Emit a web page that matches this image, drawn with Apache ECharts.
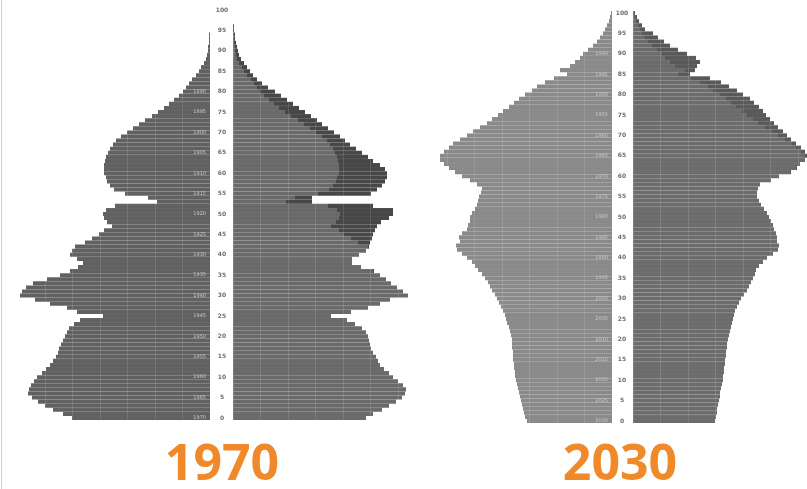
<!DOCTYPE html>
<html>
<head>
<meta charset="utf-8">
<script src="https://cdn.jsdelivr.net/npm/echarts@6/dist/echarts.min.js"></script>
<style>
html,body{margin:0;padding:0;background:#fff;}
#chart{width:807px;height:489px;}
</style>
</head>
<body>
<div id="chart"></div>
<script>
// Ages 0..100 (one bar per single year of age)
const ages = [];
for (let a = 0; a <= 100; a++) ages.push(a);

// Year titles
const years = ['1970', '2030'];

// Values (relative population units), index = age
const male1970 = [138,147,157,165,172,178,182,181,179,176,
  173,168,164,160,157,154,152,151,149,147,
  145,143,141,136,130,107,133,143,160,175,
  190,188,184,177,163,150,140,132,127,133,
  140,138,135,125,118,111,106,98,103,106,
  107,104,95,53,62,85,96,100,103,104,
  106,106,106,105,104,102,100,97,94,89,
  83,77,71,65,58,52,46,41,36,31,
  27,24,21,18,14,11,9,6,4,3,
  2,2,1,1,1,0,0,0,0,0,0];

const female1970 = [133,140,149,156,163,169,172,173,170,165,
  160,156,151,147,145,143,140,138,137,136,
  135,133,129,122,114,98,118,135,147,157,
  175,170,164,158,153,147,141,128,119,119,
  126,133,136,137,139,140,142,144,148,156,
  160,160,140,79,79,138,144,149,152,154,
  154,152,147,140,135,129,123,117,112,107,
  101,95,89,84,78,72,66,60,54,48,
  42,35,29,24,20,17,14,11,8,6,
  5,4,3,2,2,1,1,0,0,0,0];

const male2030 = [85,87,88,89,90,91,92,93,94,95,
  96,97,97,98,98,99,99,99,100,100,
  100,101,102,103,105,106,107,109,111,113,
  115,117,120,122,124,127,130,134,137,140,
  145,150,155,156,152,153,150,145,144,142,
  142,140,137,135,134,133,131,130,135,142,
  150,157,163,168,172,172,168,163,159,152,
  145,139,132,125,120,114,109,103,98,93,
  87,80,75,67,58,45,52,42,37,32,
  29,24,19,15,12,9,7,5,3,2,1];

const female2030 = [82,83,84,84,85,86,87,87,88,89,
  90,90,91,91,92,92,93,93,94,94,
  95,96,97,98,99,100,101,102,104,106,
  108,111,114,116,118,120,122,123,126,130,
  134,140,145,146,144,144,143,141,140,138,
  136,134,131,128,126,124,124,125,127,138,
  146,158,164,167,172,174,172,168,163,158,
  154,150,145,141,137,133,130,126,121,117,
  110,104,96,88,77,57,62,64,67,63,
  54,45,37,31,25,20,12,9,6,4,2];

// Ages at which birth-year labels are printed on the left halves
const yearLabelAges1970 = [0,5,10,15,20,25,30,35,40,45,50,55,60,65,70,75,80];
const yearLabelAges2030 = [0,5,10,15,20,25,30,35,40,45,50,55,60,65,70,75,80,85,90];

const base1970 = female1970.map((f, i) => Math.min(f, male1970[i]));
const surplus1970 = female1970.map((f, i) => Math.max(f - male1970[i], 0));
const base2030 = female2030.map((f, i) => Math.min(f, male2030[i]));
const surplus2030 = female2030.map((f, i) => Math.max(f - male2030[i], 0));

const chart = echarts.init(document.getElementById('chart'), null, {renderer: 'canvas'});

function xAx(idx, max, inverse) {
  return {
    gridIndex: idx, type: 'value', min: 0, max: max, inverse: inverse,
    interval: 27.5, z: 4,
    axisLine: {show: false}, axisTick: {show: false}, axisLabel: {show: false},
    splitLine: {show: true, lineStyle: {color: 'rgba(255,255,255,0.12)', width: 1}}
  };
}
function yearAxis(idx, year, list) {
  return {
    gridIndex: idx, type: 'category', data: ages, position: 'right', z: 5,
    axisLine: {show: false}, axisTick: {show: false},
    splitLine: {show: true, interval: 0, lineStyle: {color: 'rgba(255,255,255,0.05)', width: 0.6}},
    axisLabel: {
      inside: true, margin: 4, fontSize: 5, color: '#c8c8c8',
      fontFamily: 'DejaVu Sans',
      interval: (i) => list.indexOf(i) >= 0,
      formatter: (v) => String(year - Number(v))
    }
  };
}
function ageAxis(idx) {
  return {
    gridIndex: idx, type: 'category', data: ages, position: 'left', z: 5,
    axisLine: {show: false}, axisTick: {show: false},
    splitLine: {show: true, interval: 0, lineStyle: {color: 'rgba(255,255,255,0.05)', width: 0.6}},
    axisLabel: {
      margin: 11, align: 'center', fontSize: 6, fontWeight: 'bold', color: '#6e6e6e',
      fontFamily: 'DejaVu Sans',
      interval: (i) => i % 5 === 0
    }
  };
}
function bar(xi, data, color, stack) {
  return {
    type: 'bar', xAxisIndex: xi, yAxisIndex: xi, data: data, stack: stack,
    barCategoryGap: '0%', silent: true,
    itemStyle: {color: color}
  };
}

chart.setOption({
  animation: false,
  backgroundColor: '#ffffff',
  grid: [
    {left: 10, width: 200, top: 8, height: 412},
    {left: 233, width: 200, top: 8, height: 412},
    {left: 432, width: 180, top: 11, height: 412},
    {left: 633, width: 174, top: 11, height: 412}
  ],
  xAxis: [xAx(0, 200, true), xAx(1, 200, false), xAx(2, 180, true), xAx(3, 174, false)],
  yAxis: [yearAxis(0, 1970, yearLabelAges1970), ageAxis(1), yearAxis(2, 2030, yearLabelAges2030), ageAxis(3)],
  series: [
    bar(0, male1970, '#616161'),
    bar(1, base1970, '#6a6a6a', 'f1970'),
    bar(1, surplus1970, '#474747', 'f1970'),
    bar(2, male2030, '#8a8a8a'),
    bar(3, base2030, '#6c6c6c', 'f2030'),
    bar(3, surplus2030, '#595959', 'f2030')
  ],
  graphic: [
    {type: 'line', shape: {x1: 1.5, y1: 0, x2: 1.5, y2: 489}, style: {stroke: '#d0d0d0', lineWidth: 1}},
    {type: 'text', x: 222, y: 466, style: {text: years[0], fill: '#f0892a', font: 'bold 50px "Open Sans"', textAlign: 'center', textVerticalAlign: 'middle'}},
    {type: 'text', x: 620, y: 466, style: {text: years[1], fill: '#f0892a', font: 'bold 50px "Open Sans"', textAlign: 'center', textVerticalAlign: 'middle'}}
  ]
});
</script>
</body>
</html>
